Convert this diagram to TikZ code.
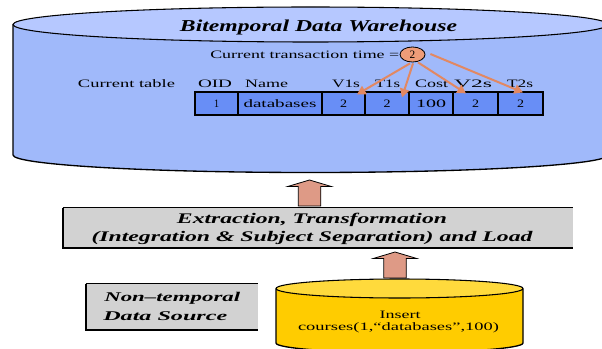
\documentclass[tikz,border=0pt]{standalone}
\usepackage{fontspec}
\setmainfont{Liberation Serif}
\usetikzlibrary{arrows.meta,calc,shapes.geometric}

% one drawing unit = one pixel of a 602x349 canvas
\newdimen\pxu \pxu=0.75pt
% stretch a text horizontally to a given width (in canvas pixels), keeping its height
\newcommand\fitw[2]{\resizebox{#1\pxu}{\height}{#2}}

\definecolor{dwtop}{RGB}{182,200,255}
\definecolor{dwbody}{RGB}{160,185,250}
\definecolor{cellblue}{RGB}{104,142,246}
\definecolor{txorange}{RGB}{238,156,120}
\definecolor{arrorange}{RGB}{226,136,98}
\definecolor{boxgray}{RGB}{210,210,210}
\definecolor{srctop}{RGB}{255,218,60}
\definecolor{srcbody}{RGB}{255,204,0}
\definecolor{salmon}{RGB}{222,154,134}

\begin{document}
\begin{tikzpicture}[x=0.75pt,y=-0.75pt,
  lbl/.style={inner sep=0pt,font=\fontsize{8.5}{10}\selectfont},
  heavy/.style={inner sep=0pt,font=\fontsize{11}{13}\selectfont\bfseries\itshape},
  cell/.style={draw=black,line width=0.9pt,fill=cellblue,minimum height=17.25pt,
    inner sep=0pt,font=\fontsize{8.5}{10}\selectfont},
  oarr/.style={draw=arrorange,line width=1.5pt,-{Triangle[length=6.5pt,width=7pt]}},
  graybox/.style={fill=boxgray,inner sep=0pt},
  barrow/.style={fill=salmon,draw=black,line width=0.6pt},
  blockup/.pic={\path[barrow] (-11.25,0) -- (-11.25,-19.5) -- (-21.75,-19.5) -- (0,-26)
      -- (21.75,-19.5) -- (11.25,-19.5) -- (11.25,0) -- cycle;}
]
\useasboundingbox (0,0) rectangle (602,349);
\clip (0,0) rectangle (602,349);
\fill[white] (0,0) rectangle (602,349);

% ---------- data warehouse cylinder ----------
\fill[dwbody] (13,24.5) -- (13,155) arc[start angle=180,end angle=0,x radius=297.5,y radius=17.5]
  -- (608,24.5) -- cycle;
\draw[line width=1pt] (13,24.5) -- (13,155) arc[start angle=180,end angle=0,x radius=297.5,y radius=17.5]
  -- (608,24.5);
\draw[fill=dwtop,line width=0.8pt] (310.5,24.5) ellipse[x radius=297.5,y radius=17.5];

\node[inner sep=0pt,font=\fontsize{12.5}{14}\selectfont\bfseries\itshape] (title) at (318.5,27)
  {\fitw{277}{Bitemporal Data Warehouse}};

\node[lbl,anchor=west] (curtx) at (210,54.5) {\fitw{189}{Current transaction time =}};
\node[draw=black,line width=0.6pt,ellipse,fill=txorange,minimum width=18.75pt,minimum height=11.25pt,
  inner sep=0pt,font=\fontsize{8.5}{10}\selectfont] (tt) at (412.5,54.5) {2};

\node[lbl] (curtab) at (126.5,84) {\fitw{97}{Current table}};
\node[lbl] (hOID)  at (215,83.5)   {\fitw{34}{OID}};
\node[lbl] (hName) at (266.5,83.5) {\fitw{43}{Name}};
\node[lbl] (hV1)   at (346,83.5)   {\fitw{28}{V1s}};
\node[lbl] (hT1)   at (387.5,83.5) {\fitw{25}{T1s}};
\node[lbl] (hCost) at (431.5,83.5) {\fitw{33}{Cost}};
\node[lbl] (hV2)   at (473,83.5)   {\fitw{38}{V2s}};
\node[lbl] (hT2)   at (520,83.5)   {\fitw{26}{T2s}};

% current table row
\node[cell,minimum width=32.25pt] (c1) at (216.5,103.5) {\fitw{5}{1}};
\node[cell,minimum width=63pt]    (c2) at (280,103.5)   {\fitw{73}{databases}};
\node[cell,minimum width=32.25pt] (c3) at (343.5,103.5) {\fitw{7}{2}};
\node[cell,minimum width=33pt]    (c4) at (387,103.5)   {\fitw{7}{2}};
\node[cell,minimum width=33pt]    (c5) at (431,103.5)   {\fitw{30}{100}};
\node[cell,minimum width=33.75pt] (c6) at (475.5,103.5) {\fitw{7}{2}};
\node[cell,minimum width=33.75pt] (c7) at (520.5,103.5) {\fitw{7}{2}};

% transaction time stamped into the row
\draw[oarr] ($(tt.south)+(-2.5,1)$) -- ($(c3.north)+(13.5,3)$);
\draw[oarr] ($(tt.south)+(0.5,1)$)  -- ($(c4.north)+(15,6)$);
\draw[oarr] ($(tt.south)+(5.5,0)$)  -- ($(c6.north)+(-9.5,2)$);
\draw[oarr] ($(tt.east)+(5,-0.5)$)  -- ($(c7.north)+(2.5,1)$);

% ---------- ETL box ----------
\node[graybox,minimum width=382.5pt,minimum height=30pt] (etl) at (318,228) {};
\draw[line width=0.6pt] (etl.north west) -- (etl.north east);
\draw[line width=1.6pt] (etl.north west) -- (etl.south west) -- (etl.south east);
\node[heavy] (etl1) at (312,220) {\fitw{270}{Extraction, Transformation}};
\node[heavy] (etl2) at (312,238) {\fitw{441}{(Integration \& Subject Separation) and Load}};

\pic at (309.5,206) {blockup};
\pic at (395,278) {blockup};

% ---------- source label ----------
\node[graybox,minimum width=129pt,minimum height=34.5pt] (srcbox) at (172,307) {};
\draw[line width=0.6pt] (srcbox.north west) -- (srcbox.north east);
\draw[line width=1.6pt] (srcbox.north west) -- (srcbox.south west) -- (srcbox.south east);
\node[heavy,font=\fontsize{10}{12}\selectfont\bfseries\itshape,anchor=west] (src1) at (104,298)
  {\fitw{136}{Non--temporal}};
\node[heavy,font=\fontsize{10}{12}\selectfont\bfseries\itshape,anchor=west] (src2) at (103,316)
  {\fitw{124}{Data Source}};

% ---------- source database cylinder ----------
\fill[srcbody] (276,288.5) -- (276,343) arc[start angle=180,end angle=0,x radius=123.5,y radius=9.5]
  -- (523,288.5) -- cycle;
\draw[line width=1pt] (276,288.5) -- (276,343) arc[start angle=180,end angle=0,x radius=123.5,y radius=9.5]
  -- (523,288.5);
\draw[fill=srctop,line width=0.8pt] (399.5,288.5) ellipse[x radius=123.5,y radius=9.5];
\node[lbl] (ins1) at (400,315) {\fitw{41}{Insert}};
\node[lbl] (ins2) at (398.5,328) {\fitw{201}{courses(1,“databases”,100)}};
\end{tikzpicture}
\end{document}
